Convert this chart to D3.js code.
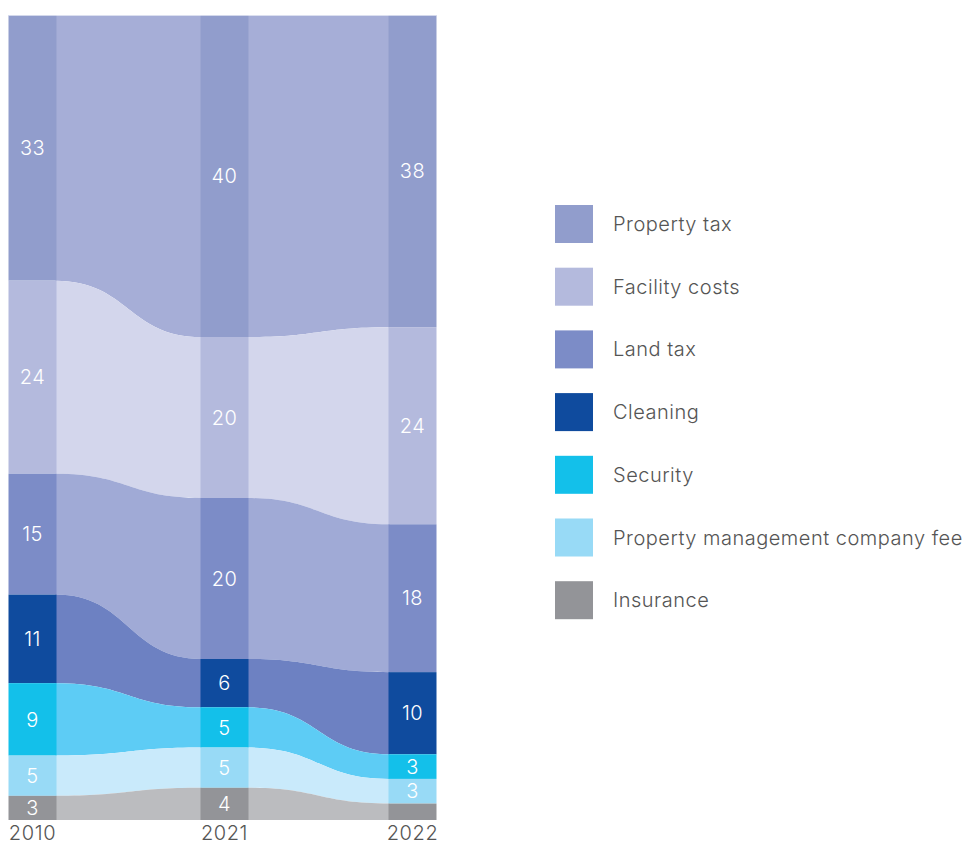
<!DOCTYPE html>
<html>
<head>
    <meta charset="utf-8">
    <title>Property cost breakdown</title>
    <script src="https://cdn.jsdelivr.net/npm/d3@7"></script>
    <style>
        body { margin: 0; background: #fff; }
        svg { font-family: 'Inter', 'Lato', sans-serif; }
        .bar-label { fill: #fff; font-size: 20px; font-weight: 300; text-anchor: middle; letter-spacing: 0.5px; }
        .year-label { fill: #555; font-size: 20px; font-weight: 300; text-anchor: middle; letter-spacing: 0.6px; }
        .legend text { fill: #555; font-size: 20px; font-weight: 300; letter-spacing: 0.5px; }
    </style>
</head>
<body>
<svg id="chart" width="965" height="846"></svg>
<script>
    // data
    var years = ["2010", "2021", "2022"];
    var categories = ["Property tax", "Facility costs", "Land tax", "Cleaning", "Security",
        "Property management company fee", "Insurance"];
    var values2010 = [33, 24, 15, 11, 9, 5, 3];
    var values2021 = [40, 20, 20, 6, 5, 5, 4];
    var values2022 = [38, 24, 18, 10, 3, 3, 2];
    var barColors = ["#919dcc", "#b4badd", "#7c8cc7", "#0f4b9e", "#13c0ea", "#98daf6", "#939498"];
    var bandColors = ["#a6aed7", "#d3d6ec", "#a0aad6", "#6d81c2", "#5dccf5", "#c9eafb", "#bbbcbf"];

    var columns = [values2010, values2021, values2022];

    var svg = d3.select("#chart");
    var plotTop = 15, plotBottom = 820, barW = 48;

    // x positions of the three columns
    var x = d3.scaleOrdinal()
        .domain(years)
        .range([32.5, 224.5, 412.5]);

    // each column is normalised to its own total
    var y = d3.scaleLinear().domain([0, 1]).range([plotTop, plotBottom]);

    // stacked positions per column, top to bottom
    var stacks = columns.map(function (vals) {
        var total = d3.sum(vals), acc = 0;
        return vals.map(function (v) {
            var s = { y0: acc / total, y1: (acc + v) / total, value: v };
            acc += v;
            return s;
        });
    });

    // flowing bands between columns
    var area = d3.area()
        .x(d => d.x)
        .y0(d => y(d.y0))
        .y1(d => y(d.y1))
        .curve(d3.curveBumpX);

    var bands = svg.append("g");
    for (var c = 0; c < years.length - 1; c++) {
        categories.forEach(function (cat, i) {
            var pts = [
                { x: x(years[c]) + barW / 2 - 1, y0: stacks[c][i].y0, y1: stacks[c][i].y1 },
                { x: x(years[c + 1]) - barW / 2 + 1, y0: stacks[c + 1][i].y0, y1: stacks[c + 1][i].y1 }
            ];
            bands.append("path")
                .datum(pts)
                .attr("fill", bandColors[i])
                .attr("d", area);
        });
    }

    // bars
    var bars = svg.append("g");
    years.forEach(function (yr, c) {
        categories.forEach(function (cat, i) {
            var s = stacks[c][i];
            bars.append("rect")
                .attr("x", x(yr) - barW / 2)
                .attr("y", y(s.y0))
                .attr("width", barW)
                .attr("height", y(s.y1) - y(s.y0))
                .attr("fill", barColors[i]);
            if (s.value >= 3) {
                bars.append("text")
                    .attr("class", "bar-label")
                    .attr("x", x(yr))
                    .attr("y", (y(s.y0) + y(s.y1)) / 2)
                    .attr("dy", "0.36em")
                    .text(s.value);
            }
        });
        svg.append("text")
            .attr("class", "year-label")
            .attr("x", x(yr))
            .attr("y", 840)
            .text(yr);
    });

    // thin top edge
    svg.append("line")
        .attr("x1", x(years[0]) - barW / 2).attr("x2", x(years[2]) + barW / 2)
        .attr("y1", plotTop + 0.5).attr("y2", plotTop + 0.5)
        .attr("stroke", "#fff").attr("stroke-opacity", 0.6);

    // legend
    var legend = svg.append("g")
        .attr("class", "legend")
        .attr("transform", "translate(555,205)");

    var item = legend.selectAll("g")
        .data(categories)
        .join("g")
        .attr("transform", (d, i) => `translate(0,${i * 62.7})`);

    item.append("rect")
        .attr("width", 38)
        .attr("height", 38)
        .attr("fill", (d, i) => barColors[i]);

    item.append("text")
        .attr("x", 58)
        .attr("y", 19)
        .attr("dy", "0.35em")
        .text(d => d);
</script>
</body>
</html>
